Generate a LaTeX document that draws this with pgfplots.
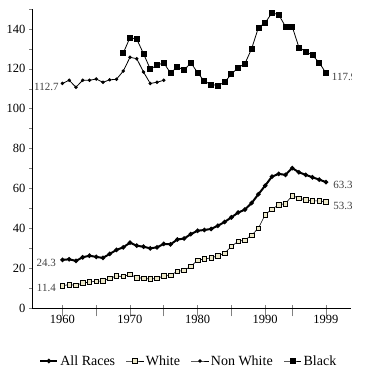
\documentclass[border=0pt]{standalone}
\usepackage{fontspec}
\setmainfont{Liberation Serif}
\usepackage{pgfplots}
\pgfplotsset{compat=1.18}
\definecolor{wfill}{RGB}{236,232,200}
\newcommand{\tT}{\fontsize{12.5}{14}\selectfont}
\newcommand{\tL}{\fontsize{14}{16}\selectfont}
\newcommand{\tV}{\fontsize{11}{13}\selectfont}

\begin{document}
\begin{tikzpicture}
\path[use as bounding box] (-32pt,-70.6pt) rectangle (350pt,308.4pt);
\begin{axis}[
  name=ax, at={(0,0)}, anchor=origin,
  width=319pt, height=299.4pt, scale only axis,
  xmin=1955.5, xmax=2002.7, ymin=0, ymax=150,
  axis lines=left, axis line style={-, line width=0.7pt},
  xtick={1960,1965,1970,1975,1980,1985,1990,1994,1999},
  xticklabels={1960,,1970,,1980,,1990,,1999},
  ytick={0,20,...,140},
  minor ytick={10,30,...,150},
  tick align=outside,
  major tick length=3pt, minor tick length=3pt,
  xtick style={/pgfplots/major tick length=11pt, yshift=3pt, line width=0.7pt},
  ytick style={line width=0.6pt},
  tick label style={font=\tT},
  /pgf/number format/assume math mode=true,
  /pgf/number format/1000 sep={},
  legend columns=4,
  legend style={at={(0.4915,-0.1757)}, anchor=center, draw=none, font=\tL,
    /tikz/every even column/.append style={column sep=9pt},
    /tikz/column 4/.style={column sep=30pt},
    /tikz/column 6/.style={column sep=3pt}},
  legend cell align=left,
]
% All Races
\addplot[black, line width=2pt, mark=*, mark size=1.1pt] coordinates {
 (1960,24.3) (1961,24.6) (1962,23.8) (1963,25.6) (1964,26.4) (1965,25.8)
 (1966,25.3) (1967,27.3) (1968,29.3) (1969,30.6) (1970,32.9) (1971,31.4)
 (1972,30.9) (1973,30.1) (1974,30.6) (1975,32.3) (1976,32.1) (1977,34.5)
 (1978,35.0) (1979,37.2) (1980,38.9) (1981,39.3) (1982,39.8) (1983,41.4)
 (1984,43.3) (1985,45.6) (1986,48.0) (1987,49.5) (1988,52.8) (1989,57.2)
 (1990,61.5) (1991,66.0) (1992,67.4) (1993,66.9) (1994,70.3) (1995,68.2)
 (1996,66.9) (1997,65.7) (1998,64.5) (1999,63.3)};
% White
\addplot[black, line width=0.6pt, mark=square*, mark size=2.3pt,
  mark options={fill=wfill, line width=0.6pt}] coordinates {
 (1960,11.4) (1961,11.9) (1962,11.6) (1963,12.7) (1964,13.2) (1965,13.6)
 (1966,13.7) (1967,15.1) (1968,16.2) (1969,16.0) (1970,17.0) (1971,15.4)
 (1972,15.1) (1973,14.7) (1974,15.1) (1975,16.2) (1976,16.6) (1977,18.6)
 (1978,19.0) (1979,21.1) (1980,24.1) (1981,24.8) (1982,25.3) (1983,26.4)
 (1984,27.6) (1985,31.1) (1986,33.6) (1987,34.2) (1988,36.7) (1989,40.2)
 (1990,47.0) (1991,49.7) (1992,51.9) (1993,52.5) (1994,56.5) (1995,55.2)
 (1996,54.4) (1997,53.9) (1998,53.9) (1999,53.3)};
% Non White
\addplot[black, line width=0.8pt, mark=*, mark size=1.3pt] coordinates {
 (1960,112.7) (1961,114.3) (1962,110.8) (1963,114.3) (1964,114.3) (1965,114.9)
 (1966,113.3) (1967,114.5) (1968,114.8) (1969,118.9) (1970,125.8) (1971,125.1)
 (1972,118.4) (1973,112.7) (1974,113.3) (1975,114.3)};
% Black
\addplot[black, line width=0.8pt, mark=square*, mark size=2.5pt] coordinates {
 (1969,127.9) (1970,135.7) (1971,134.9) (1972,127.6) (1973,119.9) (1974,121.8)
 (1975,123.1) (1976,117.8) (1977,121.1) (1978,119.3) (1979,123.1) (1980,118.1)
 (1981,113.8) (1982,112.2) (1983,111.7) (1984,113.3) (1985,117.4) (1986,120.6)
 (1987,122.6) (1988,130.1) (1989,140.7) (1990,143.1) (1991,148.0) (1992,147.2)
 (1993,141.2) (1994,141.2) (1995,130.7) (1996,128.7) (1997,126.8) (1998,123.1)
 (1999,117.9)};
\legend{All Races, White, Non White, Black}
% value tags
\node[font=\tV, text=black!75, anchor=east, inner sep=1pt] at (axis cs:1959.6,111.0) {112.7};
\node[font=\tV, text=black!75, anchor=west, inner sep=1pt] at (axis cs:1999.7,116.0) {117.9};
\node[font=\tV, text=black!75, anchor=east, inner sep=1pt] at (axis cs:1959.2,22.6) {24.3};
\node[font=\tV, text=black!75, anchor=east, inner sep=1pt] at (axis cs:1959.2,10.4) {11.4};
\node[font=\tV, text=black!75, anchor=west, inner sep=1pt] at (axis cs:1999.9,61.8) {63.3};
\node[font=\tV, text=black!75, anchor=west, inner sep=1pt] at (axis cs:1999.9,51.5) {53.3};
\end{axis}
\end{tikzpicture}
\end{document}
